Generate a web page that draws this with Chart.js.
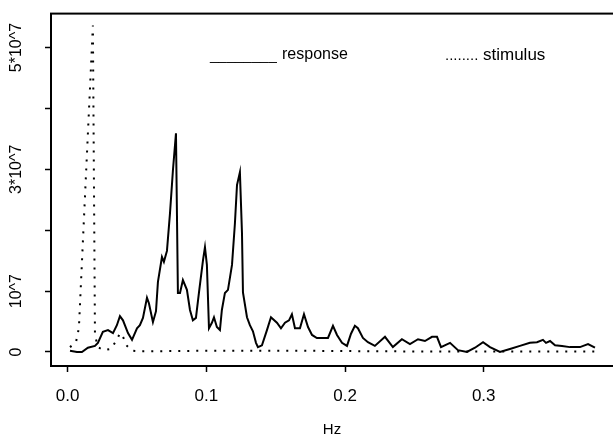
<!DOCTYPE html>
<html>
<head>
<meta charset="utf-8">
<script src="https://cdn.jsdelivr.net/npm/chart.js@4.4.1/dist/chart.umd.min.js"></script>
<style>
  html, body { margin: 0; padding: 0; background: #fff; overflow: hidden; }
</style>
</head>
<body>
<canvas id="grafico" width="613" height="447"></canvas>
<script>
// response spectrum (values in units of 10^7)
const respFreq = [0.0017,0.0067,0.0103,0.0146,0.0197,0.0218,0.0254,0.0291,0.0327,0.0355,0.0377,0.0399,0.0435,0.0464,0.0500,0.0521,0.0543,0.0572,0.0586,0.0615,0.0637,0.0651,0.0680,0.0694,0.0716,0.0738,0.0759,0.0781,0.0795,0.0810,0.0831,0.0860,0.0882,0.0903,0.0925,0.0947,0.0976,0.0990,0.1004,0.1019,0.1040,0.1055,0.1076,0.1098,0.1112,0.1134,0.1156,0.1185,0.1206,0.1221,0.1242,0.1257,0.1264,0.1293,0.1314,0.1336,0.1358,0.1372,0.1401,0.1437,0.1466,0.1509,0.1538,0.1567,0.1596,0.1617,0.1639,0.1675,0.1704,0.1733,0.1762,0.1797,0.1841,0.1877,0.1913,0.1942,0.1978,0.2014,0.2043,0.2071,0.2093,0.2129,0.2165,0.2215,0.2288,0.2345,0.2410,0.2468,0.2526,0.2576,0.2627,0.2663,0.2692,0.2757,0.2814,0.2879,0.2937,0.2995,0.3045,0.3117,0.3189,0.3261,0.3333,0.3384,0.3427,0.3449,0.3478,0.3514,0.3564,0.3622,0.3694,0.3752,0.3802];
const respVal = [0.02,0.00,0.00,0.07,0.10,0.15,0.33,0.36,0.31,0.44,0.59,0.52,0.31,0.20,0.39,0.44,0.56,0.89,0.80,0.49,0.67,1.15,1.56,1.48,1.66,2.28,2.98,3.59,0.97,0.97,1.18,1.02,0.69,0.52,0.56,0.98,1.51,1.72,1.43,0.39,0.48,0.57,0.41,0.36,0.69,0.97,1.02,1.43,2.11,2.74,2.95,1.95,0.98,0.57,0.44,0.34,0.15,0.08,0.11,0.36,0.57,0.48,0.39,0.48,0.52,0.62,0.39,0.39,0.62,0.41,0.28,0.23,0.23,0.23,0.43,0.28,0.15,0.10,0.30,0.43,0.39,0.23,0.16,0.10,0.25,0.08,0.21,0.13,0.21,0.18,0.25,0.25,0.08,0.15,0.03,0.00,0.07,0.16,0.08,0.00,0.05,0.10,0.15,0.16,0.20,0.15,0.18,0.11,0.10,0.08,0.08,0.13,0.07];

// stimulus spectrum (units of 10^7)
const stimFreq = [0.0017,0.0060,0.0081,0.0182,0.0197,0.0218,0.0262,0.0312,0.0355,0.0377,0.0399,0.0428,0.0464,0.0528,0.0954,0.1675,0.2395,0.3116,0.3802];
const stimVal = [0.08,0.16,0.39,5.36,0.28,0.08,0.03,0.05,0.20,0.31,0.25,0.10,0.02,0.01,0.02,0.02,0.01,0.01,0.01];

const xTicks = [0, 0.1, 0.2, 0.3];
const xTickLabels = ['0.0', '0.1', '0.2', '0.3'];
const yTicks = [0, 1, 2, 3, 4, 5];
const yTickLabels = ['0', '10^7', '', '3*10^7', '', '5*10^7'];

const font = "'Liberation Sans', Arial, sans-serif";

const marco = {
    id: 'marco',
    afterDraw(chart) {
        const {ctx, chartArea: a} = chart;
        ctx.save();
        ctx.strokeStyle = '#000';
        ctx.lineWidth = 2;
        ctx.strokeRect(a.left, a.top, a.right - a.left + 10, a.bottom - a.top);
        // legend written as text, like the original
        ctx.fillStyle = '#000';
        ctx.textBaseline = 'middle';
        ctx.font = '15px ' + font;
        ctx.fillText('________', 210, 56);
        ctx.fillText('........', 445, 56);
        ctx.font = '16px ' + font;
        ctx.fillText('response', 282, 55);
        ctx.font = '17px ' + font;
        ctx.fillText('stimulus', 483, 55);
        ctx.restore();
    }
};

const ctx = document.getElementById('grafico').getContext('2d');
const myChart = new Chart(ctx, {
    type: 'line',
    data: {
        datasets: [{
            label: 'response',
            data: respFreq.map((f, i) => ({x: f, y: respVal[i]})),
            borderColor: '#000',
            borderWidth: 2,
            pointRadius: 0,
            tension: 0,
            fill: false
        }, {
            label: 'stimulus',
            data: stimFreq.map((f, i) => ({x: f, y: stimVal[i]})),
            borderColor: '#000',
            borderWidth: 2,
            borderDash: [2, 7],
            pointRadius: 0,
            tension: 0,
            fill: false
        }]
    },
    options: {
        responsive: false,
        animation: false,
        layout: { padding: { top: 13, right: 0, left: 0, bottom: 0 } },
        plugins: {
            legend: { display: false },
            tooltip: { enabled: false }
        },
        scales: {
            x: {
                type: 'linear',
                min: -0.012,
                max: 0.3932,
                afterBuildTicks: s => { s.ticks = xTicks.map(v => ({value: v})); },
                afterFit: s => { s.height = 81; },
                grid: { drawOnChartArea: false, drawTicks: true, tickLength: 6, tickColor: '#000', tickWidth: 1.5 },
                border: { display: true, color: '#000', width: 2 },
                ticks: {
                    color: '#000',
                    font: { family: font, size: 17 },
                    padding: 14,
                    maxRotation: 0,
                    callback: (v, i) => xTickLabels[i]
                },
                title: {
                    display: true,
                    text: 'Hz',
                    color: '#000',
                    font: { family: font, size: 15 },
                    padding: { top: 0, bottom: 8 }
                }
            },
            y: {
                type: 'linear',
                min: -0.23,
                max: 5.557,
                afterBuildTicks: s => { s.ticks = yTicks.map(v => ({value: v})); },
                afterFit: s => { s.width = 51; },
                grid: { drawOnChartArea: false, drawTicks: true, tickLength: 6, tickColor: '#000', tickWidth: 1.5 },
                border: { display: true, color: '#000', width: 2 },
                ticks: {
                    color: '#000',
                    font: { family: font, size: 16 },
                    padding: 4,
                    minRotation: 90,
                    maxRotation: 90,
                    crossAlign: 'center',
                    callback: (v, i) => yTickLabels[i]
                }
            }
        }
    },
    plugins: [marco]
});
</script>
</body>
</html>
